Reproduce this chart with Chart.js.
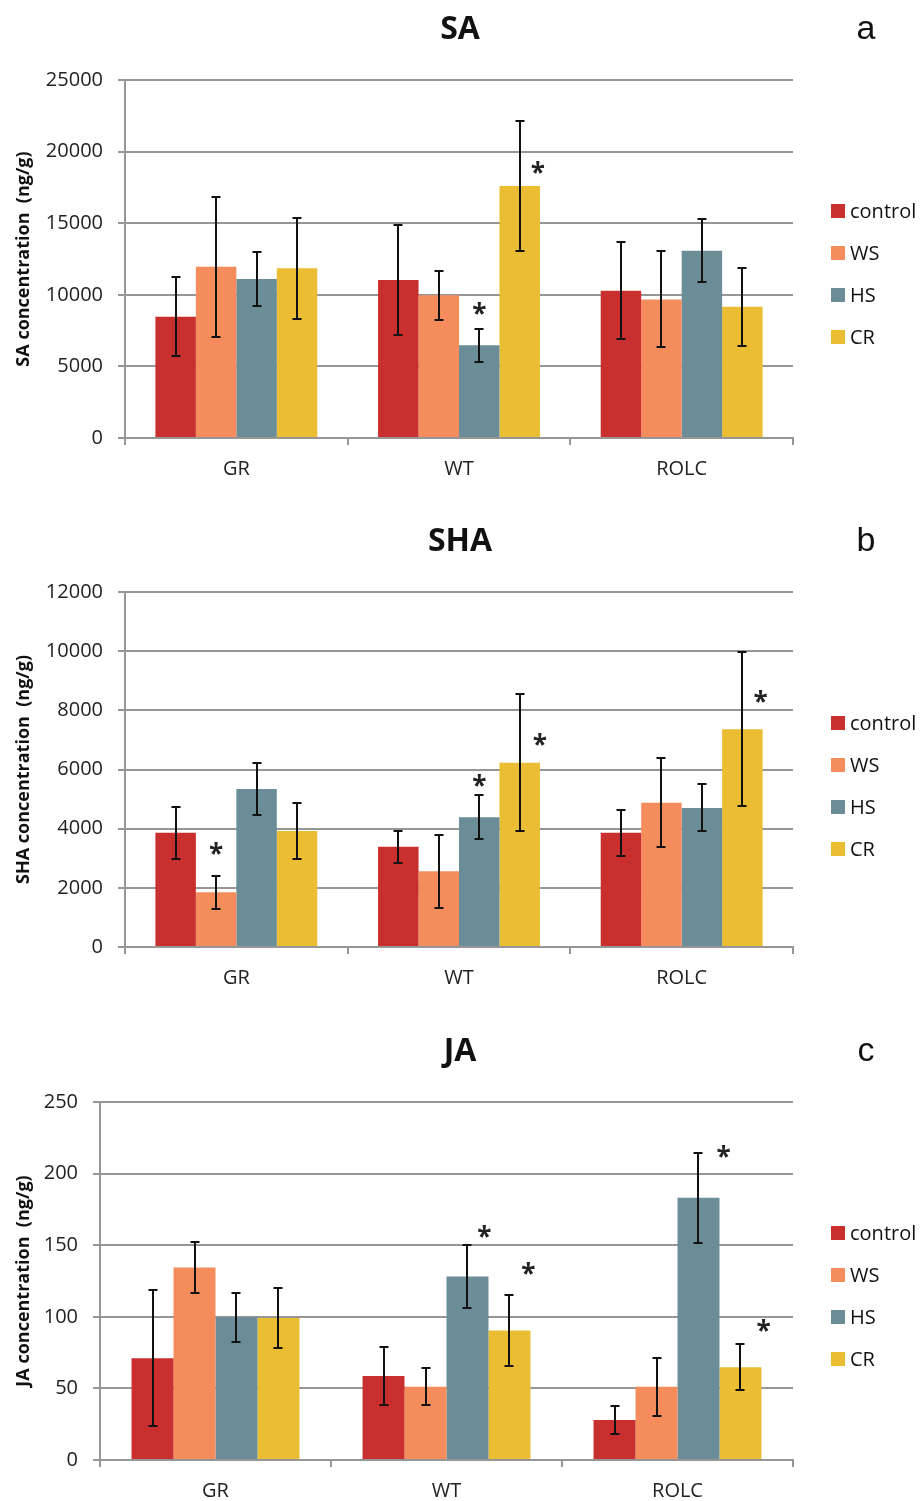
<!DOCTYPE html>
<html>
<head>
<meta charset="utf-8">
<script src="https://cdn.jsdelivr.net/npm/chart.js@4.4.0/dist/chart.umd.min.js"></script>
<style>
    body { margin: 0; background: #fff; }
    #page { position: relative; width: 923px; height: 1501px; }
    canvas { position: absolute; left: 0; }
</style>
</head>
<body>
<div id="page">
    <canvas id="chartSA" width="923" height="505" style="top:0px"></canvas>
    <canvas id="chartSHA" width="923" height="510" style="top:505px"></canvas>
    <canvas id="chartJA" width="923" height="486" style="top:1015px"></canvas>
</div>
<script>
// Categories and treatments
const categories = ['GR', 'WT', 'ROLC'];
const treatments = ['control', 'WS', 'HS', 'CR'];

// SA (ng/g)
const saControl = [8470, 11030, 10290];
const saWS = [11960, 9960, 9680];
const saHS = [11100, 6470, 13080];
const saCR = [11850, 17600, 9170];
const saControlErr = [2740, 3850, 3400];
const saWSErr = [4890, 1720, 3350];
const saHSErr = [1900, 1130, 2180];
const saCRErr = [3530, 4560, 2720];
const saTicks = [0, 25000, 5000];
// [treatment index, category index, value at star, shift in bar widths]
const saStars = [[2, 1, 9080, 0], [3, 1, 18920, 0.45]];

// SHA (ng/g)
const shaControl = [3860, 3390, 3860];
const shaWS = [1850, 2560, 4880];
const shaHS = [5340, 4390, 4700];
const shaCR = [3920, 6230, 7360];
const shaControlErr = [885, 545, 775];
const shaWSErr = [565, 1240, 1500];
const shaHSErr = [890, 735, 795];
const shaCRErr = [950, 2310, 2610];
const shaTicks = [0, 12000, 2000];
const shaStars = [[1, 0, 3330, 0], [2, 1, 5650, 0], [3, 1, 7020, 0.5], [3, 2, 8490, 0.45]];

// JA (ng/g)
const jaControl = [71.1, 58.7, 28];
const jaWS = [134.4, 51.2, 51.2];
const jaHS = [99.7, 128.1, 183.1];
const jaCR = [99.2, 90.4, 64.8];
const jaControlErr = [47.7, 20, 9.8];
const jaWSErr = [17.5, 13, 20.2];
const jaHSErr = [17, 22, 31.3];
const jaCRErr = [20.7, 24.8, 16];
const jaTicks = [0, 250, 50];
const jaStars = [[2, 1, 160, 0.4], [3, 1, 134.4, 0.45], [2, 2, 216, 0.6], [3, 2, 94.3, 0.55]];

const colors = ['#c92f2e', '#f48c5c', '#6a8d98', '#eabd33'];
const gridColor = '#969696';
const FONT = "'Open Sans', sans-serif";

Chart.defaults.font.family = FONT;
Chart.defaults.color = '#222';

// error bars, asterisks, title, panel letter and legend
const decorPlugin = {
    id: 'decor',
    afterDatasetsDraw(chart, args, opts) {
        const ctx = chart.ctx;
        const yScale = chart.scales.y;
        ctx.save();
        ctx.strokeStyle = '#111';
        ctx.lineWidth = 2;
        chart.data.datasets.forEach((ds, i) => {
            const meta = chart.getDatasetMeta(i);
            meta.data.forEach((bar, j) => {
                const v = ds.data[j];
                const e = ds.errors[j];
                const yTop = Math.round(yScale.getPixelForValue(v + e));
                const yBot = Math.round(yScale.getPixelForValue(v - e));
                const x = Math.round(bar.x);
                ctx.beginPath();
                ctx.moveTo(x, yTop); ctx.lineTo(x, yBot);
                ctx.moveTo(x - 4.5, yTop); ctx.lineTo(x + 4.5, yTop);
                ctx.moveTo(x - 4.5, yBot); ctx.lineTo(x + 4.5, yBot);
                ctx.stroke();
            });
        });

        ctx.fillStyle = '#222';
        ctx.font = 'bold 26px ' + FONT;
        ctx.textAlign = 'center';
        ctx.textBaseline = 'alphabetic';
        opts.stars.forEach(s => {
            const bar = chart.getDatasetMeta(s[0]).data[s[1]];
            const x = bar.x + s[3] * bar.width;
            const y = yScale.getPixelForValue(s[2]);
            ctx.fillText('*', x, y + 15);
        });
        ctx.restore();
    },
    afterDraw(chart, args, opts) {
        const ctx = chart.ctx;
        const area = chart.chartArea;
        ctx.save();
        ctx.fillStyle = '#111';
        ctx.textAlign = 'center';
        ctx.textBaseline = 'alphabetic';
        ctx.font = 'bold 32px ' + FONT;
        ctx.fillText(opts.title, 460, area.top - 41);
        ctx.font = '34px "Liberation Sans", Arial, sans-serif';
        ctx.fillText(opts.letter, 866, area.top - 41);

        ctx.textAlign = 'left';
        ctx.textBaseline = 'middle';
        ctx.font = '20px ' + FONT;
        chart.data.datasets.forEach((ds, i) => {
            const y = area.top + 131 + i * 42;
            ctx.fillStyle = ds.backgroundColor;
            ctx.fillRect(831, y - 7, 14, 14);
            ctx.fillStyle = '#111';
            ctx.fillText(ds.label, 850, y + 1);
        });
        ctx.restore();
    }
};

function makePanel(canvasId, values, errors, ticks, axisTitle, title, letter, stars, axisWidth, padTop, padBottom) {
    const datasets = values.map((vals, i) => ({
        label: treatments[i],
        data: vals,
        errors: errors[i],
        backgroundColor: colors[i],
        borderWidth: 0,
        categoryPercentage: 0.727,
        barPercentage: 1.0
    }));

    return new Chart(document.getElementById(canvasId), {
        type: 'bar',
        data: { labels: categories, datasets },
        plugins: [decorPlugin],
        options: {
            responsive: false,
            animation: false,
            layout: { padding: { left: 0, top: padTop, right: 130, bottom: padBottom } },
            plugins: {
                legend: { display: false },
                tooltip: { enabled: false },
                decor: { title, letter, stars }
            },
            scales: {
                x: {
                    grid: { offset: true, drawOnChartArea: false, tickLength: 7, color: gridColor, lineWidth: 2 },
                    border: { color: gridColor, width: 2 },
                    ticks: { font: { size: 20 }, padding: 12, color: '#222' },
                    afterFit(scale) { scale.height = 40; }
                },
                y: {
                    min: ticks[0],
                    max: ticks[1],
                    ticks: {
                        stepSize: ticks[2],
                        font: { size: 20 },
                        padding: 15,
                        color: '#222',
                        callback: v => String(v)
                    },
                    grid: { color: gridColor, lineWidth: 2, tickLength: 7 },
                    border: { color: gridColor, width: 2 },
                    title: {
                        display: true,
                        text: axisTitle,
                        font: { size: 18, weight: 'bold' },
                        color: '#111',
                        padding: { top: 13, bottom: 0 }
                    },
                    afterFit(scale) { scale.width = axisWidth; }
                }
            }
        }
    });
}

makePanel('chartSA',
    [saControl, saWS, saHS, saCR],
    [saControlErr, saWSErr, saHSErr, saCRErr],
    saTicks, 'SA concentration  (ng/g)', 'SA', 'a', saStars, 125, 80, 27);

makePanel('chartSHA',
    [shaControl, shaWS, shaHS, shaCR],
    [shaControlErr, shaWSErr, shaHSErr, shaCRErr],
    shaTicks, 'SHA concentration  (ng/g)', 'SHA', 'b', shaStars, 125, 87, 28);

makePanel('chartJA',
    [jaControl, jaWS, jaHS, jaCR],
    [jaControlErr, jaWSErr, jaHSErr, jaCRErr],
    jaTicks, 'JA concentration  (ng/g)', 'JA', 'c', jaStars, 100, 87, 1);
</script>
</body>
</html>
